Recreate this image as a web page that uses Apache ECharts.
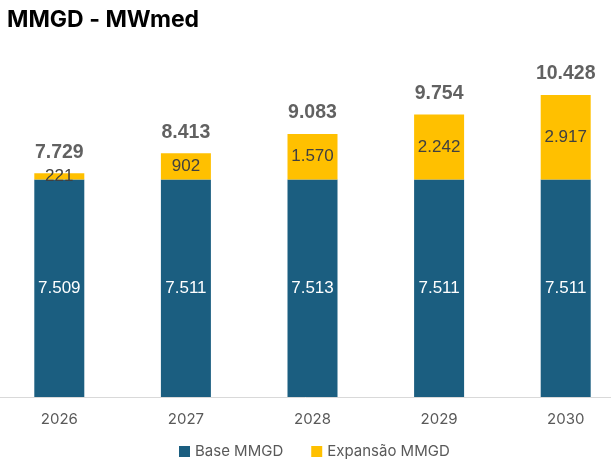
<!DOCTYPE html>
<html><head><meta charset="utf-8">
<script src="https://cdn.jsdelivr.net/npm/echarts@6/dist/echarts.min.js"></script>
<style>html,body{margin:0;padding:0;background:#fff}#c{width:611px;height:466px}</style>
</head><body><div id="c"></div>
<script>
const categories = ['2026', '2027', '2028', '2029', '2030'];
const baseMMGD = [7509, 7511, 7513, 7511, 7511];
const expansaoMMGD = [221, 902, 1570, 2242, 2917];
const totals = [7729, 8413, 9083, 9754, 10428];

function fmt(v) {
  return String(v).replace(/\B(?=(\d{3})+(?!\d))/g, '.');
}

const chart = echarts.init(document.getElementById('c'));
chart.setOption({
  animation: false,
  title: {
    text: 'MMGD - MWmed', left: 2, top: 4,
    textStyle: { fontFamily: 'Inter', fontWeight: 'bold', fontSize: 23, color: '#000' }
  },
  legend: {
    top: 439, left: 174, itemWidth: 11, itemHeight: 11, itemGap: 28, itemStyle: { borderWidth: 0 },
    icon: 'rect',
    textStyle: { fontFamily: 'Inter', fontSize: 15, color: '#595959' },
    data: ['Base MMGD', 'Expansão MMGD']
  },
  grid: { left: -4, right: -18, top: 49.5, bottom: 69, containLabel: false, outerBoundsMode: 'none' },
  xAxis: {
    type: 'category', data: categories,
    axisLine: { show: true, lineStyle: { color: '#d9d9d9', width: 1 } },
    axisTick: { show: false },
    axisLabel: { fontFamily: 'Inter', fontSize: 15, color: '#595959', margin: 15 }
  },
  yAxis: { type: 'value', min: 0, max: 12000, show: false, splitLine: { show: false } },
  series: [
    {
      name: 'Base MMGD', type: 'bar', stack: 's', barWidth: 50, data: baseMMGD,
      itemStyle: { color: '#1B5E80' },
      label: { show: true, position: 'inside', formatter: p => fmt(p.value),
        fontFamily: 'Liberation Sans', fontSize: 17, color: '#fff' }
    },
    {
      name: 'Expansão MMGD', type: 'bar', stack: 's', barWidth: 50, data: expansaoMMGD,
      itemStyle: { color: '#FFC000' },
      label: { show: true, position: 'inside', formatter: p => fmt(p.value),
        fontFamily: 'Liberation Sans', fontSize: 17, color: '#404040' }
    },
    {
      name: 'Total', type: 'scatter', data: totals, symbolSize: 0, silent: true,
      label: { show: true, position: 'top', distance: 11, formatter: p => fmt(p.value),
        fontFamily: 'Liberation Sans', fontWeight: 'bold', fontSize: 19.5, color: '#3a3a3a' }
    }
  ]
});
</script></body></html>
